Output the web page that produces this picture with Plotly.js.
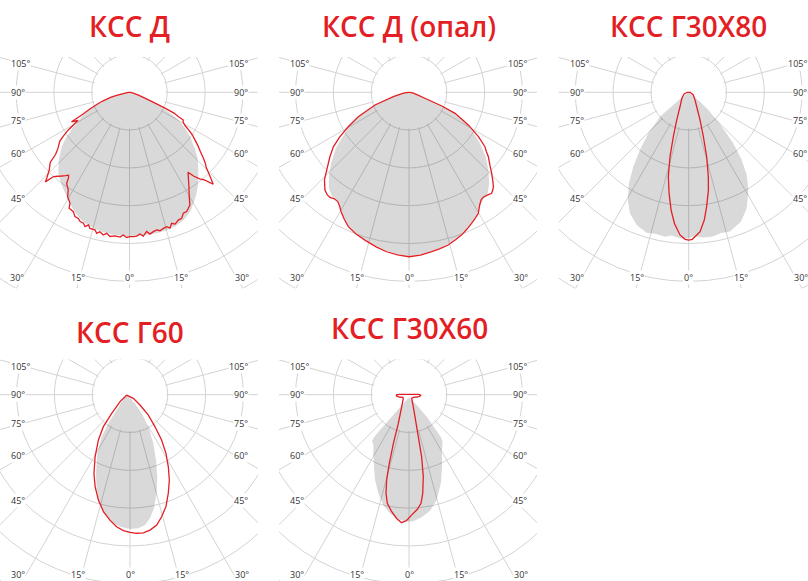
<!DOCTYPE html>
<html>
<head>
<meta charset="utf-8">
<script src="https://cdn.plot.ly/plotly-3.0.1.min.js"></script>
<style>
html, body { margin:0; padding:0; width:808px; height:581px; overflow:hidden; background:#fff; }
#chart { position:absolute; left:-260px; top:-260px; }
</style>
</head>
<body>
<div id="chart"></div>
<script>
// ---------------- data (angle in degrees from nadir, + to the right; r in grid units) ----------------
const titles = ['КСС Д', 'КСС Д (опал)', 'КСС Г30Х80', 'КСС Г60', 'КСС Г30Х60'];
const sideTickAngles = [105, 90, 75, 60, 45];
const bottomTickAngles = [-30, -15, 0, 15, 30];
const radialGrid = [1, 2, 3, 4, 5, 6];

// Panel 1: КСС Д
const d_greyTheta = [-180,-90,-80,-77,-75,-72,-70,-67,-64,-61.5,-59,-57,-54.8,-53,-51.3,-48.5,-46.2,-43.5,-41.3,-38.5,-36.2,-33.5,-31.1,-28,-25.5,-22,-18.8,-15,-11.3,-7,-3,0,4,8,11.6,15,18.7,22,24.7,27.5,29.9,33,35.9,38.5,41.5,44,46.5,48.5,50.5,53,55.1,57.5,59.8,61.8,63.5,65.5,67.2,69,72,78,90,180];
const d_greyR     = [0,0.01,0.12,0.35,0.52,0.75,0.9,1.12,1.35,1.52,1.68,1.85,2.03,2.17,2.3,2.45,2.59,2.73,2.85,2.95,3.04,3.13,3.22,3.34,3.45,3.57,3.66,3.72,3.76,3.79,3.8,3.8,3.8,3.8,3.79,3.78,3.75,3.69,3.62,3.52,3.39,3.24,3.08,2.92,2.75,2.61,2.47,2.33,2.19,2.04,1.9,1.72,1.54,1.35,1.15,0.9,0.64,0.44,0.25,0.1,0.01,0];
const d_redTheta  = [-180,-88,-80,-77,-75,-72,-70,-67,-64.5,-63,-61.5,-60,-58.4,-56.5,-55,-52,-50,-48.5,-46,-44,-43.2,-42,-40.5,-39,-37.5,-36.3,-35.5,-34.6,-32.1,-30.65,-28.2,-27.5,-25.2,-23.7,-22.1,-20.9,-19.4,-18.3,-17.2,-16.2,-14.1,-13.1,-12,-10.4,-9.2,-7.7,-5.8,-3.7,-2.5,-1.1,0.2,1.5,2.9,4.2,5.5,7,8.2,9.7,11.2,12.4,14,15.5,16.6,17.8,19.1,20.9,22.5,24,25.6,26.9,28.2,29.8,32.2,34.9,36.2,37.5,39,40.5,42.3,44,45.5,47,48.5,50,52,54,56,57.5,59,61,62.8,63.5,65,66,67,69,72,78,88,180];
const d_redR      = [0,0.03,0.12,0.35,0.52,0.75,0.9,1.15,1.4,1.72,1.55,1.7,1.9,2.1,2.25,2.4,2.55,2.8,2.95,3.15,3.25,3.0,2.92,2.85,2.78,2.72,2.78,2.93,3.05,3.21,3.33,3.46,3.49,3.59,3.6,3.66,3.67,3.74,3.67,3.75,3.75,3.83,3.77,3.84,3.78,3.85,3.82,3.84,3.78,3.84,3.82,3.82,3.81,3.76,3.82,3.71,3.79,3.74,3.71,3.75,3.71,3.69,3.75,3.64,3.69,3.62,3.61,3.5,3.5,3.44,3.38,3.18,2.95,2.72,2.62,2.8,2.95,3.05,3.29,3.05,2.85,2.74,2.6,2.45,2.3,2.14,2.0,1.86,1.72,1.62,1.6,1.45,1.3,1.0,0.75,0.45,0.25,0.1,0.03,0];

// Panel 2: КСС Д (опал)
const o_greyTheta = [-180,-90,-82,-74.5,-69.6,-64.3,-60.5,-57.4,-52.6,-47.7,-43.5,-39.8,-36.5,-33.1,-31.5,-29.7,-27,-24.3,-20.5,-16.6,-12,-8,-4,0,4,8.1,11,14.4,17.5,20.3,23,25.6,27.8,29.8,31.5,34.6,37.9,41.4,45.6,50,54.3,59,61.2,65.5,67.3,69.4,74,82,90,180];
const o_greyR     = [0,0.01,0.15,0.43,0.96,1.49,1.8,2.01,2.44,2.79,3.08,3.31,3.42,3.43,3.5,3.61,3.75,3.88,3.98,4.06,4.16,4.24,4.29,4.33,4.3,4.24,4.2,4.15,4.07,4.0,3.91,3.82,3.74,3.66,3.55,3.45,3.39,3.21,2.94,2.65,2.31,1.93,1.75,1.34,0.94,0.45,0.2,0.1,0.01,0];
const o_redTheta  = [-180,-90,-82,-74.5,-69.6,-64.3,-60.5,-57.3,-54.3,-50.8,-46.7,-44,-40.7,-38.5,-37,-35,-33.1,-31.5,-29.7,-27,-24.3,-20.5,-16.6,-12,-8,-4,0,4,8.1,11,14.4,17.5,20.3,23,25.6,27.8,29.8,31.5,32.6,34,35.3,37.3,39.3,40.5,41.8,43.5,45.6,48,51,52.5,54.4,57.4,61.2,65.5,67.3,69.4,74,82,90,180];
const o_redR      = [0,0.01,0.15,0.43,0.96,1.49,1.84,2.17,2.46,2.7,2.99,3.22,3.41,3.47,3.48,3.44,3.45,3.52,3.63,3.77,3.9,4.0,4.08,4.18,4.26,4.31,4.35,4.32,4.26,4.22,4.17,4.09,4.02,3.93,3.84,3.76,3.69,3.56,3.49,3.42,3.4,3.42,3.45,3.41,3.35,3.22,3.06,2.88,2.7,2.58,2.47,2.18,1.79,1.34,0.94,0.45,0.2,0.1,0.01,0];

// Panel 3: КСС Г30Х80
const g3080_greyTheta = [-180,-90,-55,-52,-51.2,-49.7,-44.5,-40.2,-36.7,-33.3,-29.5,-25.9,-21.4,-16.7,-13,-9.3,-7,-3,0,2,6,9.1,13,16.5,22,26.6,31.4,35.1,38.1,41.2,43.9,48.1,50,52,90,180];
const g3080_greyR     = [0,0.01,0.02,0.3,0.46,0.99,1.52,2.0,2.45,2.88,3.27,3.56,3.77,3.88,3.85,3.87,3.82,3.87,3.86,3.82,3.86,3.87,3.82,3.84,3.69,3.43,3.03,2.67,2.27,1.79,1.26,0.7,0.4,0.02,0.01,0];
const g3080_redTheta  = [-180,-90,-70,-49,-31.2,-23.4,-19.1,-16.2,-13.6,-11,-8.5,-6.2,-3.5,-1.4,0,1.4,4.65,7,8.9,11.4,13.1,15.6,18.3,22.3,29.2,40,60,90,180];
const g3080_redR      = [0,0.04,0.13,0.24,0.44,0.8,1.24,1.77,2.29,2.72,3.15,3.49,3.78,3.89,3.91,3.89,3.7,3.4,3.06,2.64,2.29,1.77,1.24,0.79,0.43,0.26,0.14,0.04,0];

// Panel 4: КСС Г60
const g60_greyTheta = [-84,-50,-41,-37.1,-34,-29.1,-23.4,-19.3,-15.8,-11.9,-8.2,-4.3,0,3.6,6.6,9.2,11.9,15.1,18.4,21.7,25.6,29.8,32,30];
const g60_greyR     = [0.08,0.29,0.54,0.95,1.34,1.78,2.27,2.67,2.99,3.21,3.4,3.5,3.55,3.54,3.47,3.31,3.07,2.7,2.29,1.86,1.43,0.98,0.58,0.26];
const g60_redTheta  = [-84,-68,-55,-44.5,-39.8,-34.9,-29.4,-24.6,-20.8,-16.7,-12.8,-9.1,-5.8,-2.8,0,2.75,5.5,8.4,11.6,14.6,17.8,21.2,24.7,28,31.5,34.9,38,42,44,42.3];
const g60_redR      = [0.09,0.14,0.32,0.69,1.1,1.46,1.88,2.29,2.6,2.91,3.17,3.36,3.51,3.6,3.64,3.67,3.67,3.62,3.52,3.33,3.11,2.8,2.49,2.16,1.82,1.46,1.07,0.72,0.38,0.13];

// Panel 5: КСС Г30Х60
const g3060_greyTheta = [0,-37.6,-39.4,-39.4,-38.6,-35.3,-31.3,-25.9,-21.7,-17.3,-13.1,-9.1,-4.9,-1.05,2,5.9,10.3,14.7,19.8,24.6,30.8,35.6,36.9,38.8,36.6];
const g3060_greyR     = [0.07,0.68,1.21,1.46,1.57,1.63,1.82,2.12,2.43,2.73,3.0,3.18,3.31,3.36,3.35,3.26,3.12,2.88,2.49,2.1,1.7,1.53,1.41,0.75,0.34];
const g3060_redTheta  = [-85.6,-80,-76.4,-67,-57,-31.4,-20.4,-17.8,-16,-14.7,-13.1,-11.3,-8.4,-5.7,-3.3,-1.1,1.3,4.2,6.3,7.9,9.9,11.5,12.5,15.3,22.9,36,58.4,73,80.8,86.7,89.5,92,94.4,-94.8,-92,-89.5];
const g3060_redR      = [0.345,0.3,0.26,0.18,0.18,0.37,0.81,1.35,1.89,2.33,2.68,2.93,3.13,3.29,3.39,3.33,3.18,3.04,2.89,2.64,2.2,1.67,1.14,0.6,0.25,0.12,0.135,0.21,0.28,0.31,0.3,0.25,0.115,0.106,0.256,0.33];

// ---------------- layout geometry ----------------
const VIEW_W = 808, VIEW_H = 581, PAD = 260;
const FIG_W = VIEW_W + 2 * PAD, FIG_H = VIEW_H + 2 * PAD;
const PX_PER_UNIT = 37.8;
const R_MAX = 6.5;
const MASK_R = 0.96;
const RED = 'rgb(227,30,36)';
const GRID = '#d3d3d3';
const FILL = 'rgba(0,0,0,0.15)';

const panels = [
  {greyT: d_greyTheta, greyR: d_greyR, redT: d_redTheta, redR: d_redR, cx: 129.5, cy: 92.3, ty: 25.7, by: 185},
  {greyT: o_greyTheta, greyR: o_greyR, redT: o_redTheta, redR: o_redR, cx: 409, cy: 92.3, ty: 25.7, by: 185},
  {greyT: g3080_greyTheta, greyR: g3080_greyR, redT: g3080_redTheta, redR: g3080_redR, cx: 688.7, cy: 92.3, ty: 25.7, by: 185},
  {greyT: g60_greyTheta, greyR: g60_greyR, redT: g60_redTheta, redR: g60_redR, cx: 130, cy: 394.7, ty: 331.7, by: 180},
  {greyT: g3060_greyTheta, greyR: g3060_greyR, redT: g3060_redTheta, redR: g3060_redR, cx: 409, cy: 394.7, ty: 327.8, by: 180}
];
// visible (clipped) window of each diagram, relative to its centre
const CLIP = {left: -130, right: 128, top: -35.3, bottom: 196};

const px = x => (x + PAD) / FIG_W;
const py = y => 1 - (y + PAD) / FIG_H;

const maskTheta = [];
for (let a = 0; a <= 360; a += 5) maskTheta.push(a);

const traces = [];
const layout = {
  width: FIG_W, height: FIG_H,
  margin: {l: 0, r: 0, t: 0, b: 0},
  paper_bgcolor: '#ffffff',
  showlegend: false,
  annotations: []
};

const closeLoop = arr => arr.concat([arr[0]]);

panels.forEach((p, i) => {
  const sub = i === 0 ? 'polar' : 'polar' + (i + 1);
  const Rpx = R_MAX * PX_PER_UNIT;
  layout[sub] = {
    domain: {
      x: [px(p.cx - Rpx), px(p.cx + Rpx)],
      y: [py(p.cy + Rpx), py(p.cy - Rpx)]
    },
    bgcolor: 'rgba(0,0,0,0)',
    radialaxis: {range: [0, R_MAX], tickmode: 'array', tickvals: radialGrid, showticklabels: false,
                 ticks: '', showline: false, gridcolor: GRID, gridwidth: 1},
    angularaxis: {rotation: -90, direction: 'counterclockwise', tickmode: 'linear', tick0: 0, dtick: 15,
                  showticklabels: false, ticks: '', showline: false, gridcolor: GRID, gridwidth: 1}
  };
  // white centre disc (grid is not drawn inside the first circle)
  traces.push({type: 'scatterpolar', subplot: sub, theta: maskTheta, r: maskTheta.map(() => MASK_R),
               mode: 'lines', line: {width: 0, color: '#ffffff'}, fill: 'toself', fillcolor: '#ffffff', hoverinfo: 'skip'});
  // grey distribution
  traces.push({type: 'scatterpolar', subplot: sub, theta: p.greyT, r: p.greyR,
               mode: 'lines', line: {width: 0, color: 'rgba(0,0,0,0)'}, fill: 'toself', fillcolor: FILL});
  // red distribution
  traces.push({type: 'scatterpolar', subplot: sub, theta: closeLoop(p.redT), r: closeLoop(p.redR),
               mode: 'lines', line: {width: 1.3, color: RED}});

  // title
  layout.annotations.push({xref: 'paper', yref: 'paper', x: px(p.cx), y: py(p.ty), text: titles[i],
    showarrow: false, xanchor: 'center', yanchor: 'middle',
    font: {family: 'Open Sans, sans-serif', size: 28, color: RED, weight: 600}});

  // side angle labels
  const lblFont = {family: 'Open Sans, sans-serif', size: 9, color: '#333333'};
  sideTickAngles.forEach(a => {
    const t = a * Math.PI / 180;
    const yy = p.cy + 106 * Math.cos(t) / Math.sin(t);
    [-1, 1].forEach(s => {
      layout.annotations.push({xref: 'paper', yref: 'paper', x: px(p.cx + s * (s < 0 ? 120 : 119)), y: py(yy),
        text: a + '°', showarrow: false, xanchor: s < 0 ? 'left' : 'right', yanchor: 'middle',
        bgcolor: '#ffffff', borderpad: 0, font: lblFont});
    });
  });
  bottomTickAngles.forEach(a => {
    const t = a * Math.PI / 180;
    layout.annotations.push({xref: 'paper', yref: 'paper', x: px(p.cx + 194 * Math.tan(t)), y: py(p.cy + p.by),
      text: Math.abs(a) + '°', showarrow: false, xanchor: 'center', yanchor: 'middle',
      bgcolor: '#ffffff', borderpad: 0, font: lblFont});
  });
});

Plotly.newPlot('chart', traces, layout, {staticPlot: true, displayModeBar: false}).then(gd => {
  const NS = 'http://www.w3.org/2000/svg';
  const svg = gd.querySelector('svg.main-svg');
  let defs = svg.querySelector('defs');
  if (!defs) { defs = document.createElementNS(NS, 'defs'); svg.insertBefore(defs, svg.firstChild); }
  panels.forEach((p, i) => {
    const cls = i === 0 ? 'polar' : 'polar' + (i + 1);
    const id = 'panelclip' + i;
    const cp = document.createElementNS(NS, 'clipPath');
    cp.setAttribute('id', id);
    const rect = document.createElementNS(NS, 'rect');
    rect.setAttribute('x', p.cx + PAD + CLIP.left);
    rect.setAttribute('y', p.cy + PAD + CLIP.top);
    rect.setAttribute('width', CLIP.right - CLIP.left);
    rect.setAttribute('height', CLIP.bottom - CLIP.top);
    cp.appendChild(rect);
    defs.appendChild(cp);
    const g = svg.querySelector('.polarlayer > g.' + cls);
    if (g) g.setAttribute('clip-path', 'url(#' + id + ')');
  });
});
</script>
</body>
</html>
